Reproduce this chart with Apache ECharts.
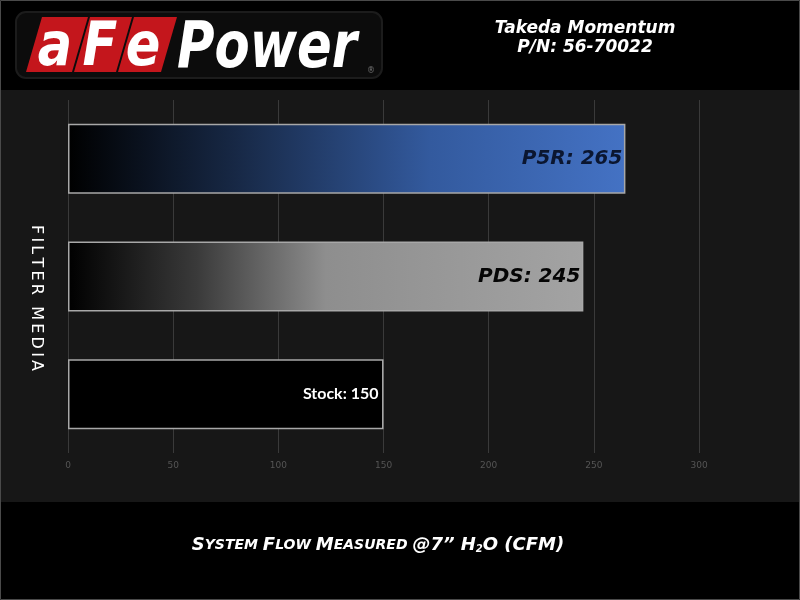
<!DOCTYPE html>
<html>
<head>
<meta charset="utf-8">
<script src="https://cdn.jsdelivr.net/npm/echarts@6/dist/echarts.min.js"></script>
<style>
html,body{margin:0;padding:0;background:#000;}
#chart{width:800px;height:600px;}
</style>
</head>
<body>
<div id="chart"></div>
<script>
// ---- data ----
const categories = ['Stock', 'PDS', 'P5R'];
const flowValues = [150, 245, 265];
const xTicks = [0, 50, 100, 150, 200, 250, 300];
const xAxisMax = 348;
const titleLines = ['Takeda Momentum', 'P/N: 56-70022'];
const yAxisTitle = 'FILTER MEDIA';
const xAxisTitleParts = [['S','big'],['YSTEM ','small'],['F','big'],['LOW ','small'],['M','big'],['EASURED ','small'],['@7” H','big'],['2','sub'],['O (CFM)','big']];
const logoLetters = ['a', 'F', 'e'];
const logoWord = 'Power';

// ---- styles ----
const barFills = [
  '#000000',
  new echarts.graphic.LinearGradient(0, 0, 1, 0, [
    {offset: 0, color: '#000000'}, {offset: 0.25, color: '#3a3a3a'},
    {offset: 0.5, color: '#8e8e8e'}, {offset: 1, color: '#a3a3a3'}]),
  new echarts.graphic.LinearGradient(0, 0, 1, 0, [
    {offset: 0, color: '#000000'}, {offset: 0.3, color: '#172845'},
    {offset: 0.65, color: '#335a9e'}, {offset: 1, color: '#4472c4'}])
];
const labelStyles = [
  {color: '#ffffff', fontFamily: 'Lato', fontWeight: 'bold', fontSize: 16, fontStyle: 'normal', distance: 5},
  {color: '#050505', fontFamily: 'DejaVu Sans', fontWeight: 'bold', fontSize: 20, fontStyle: 'italic', distance: 3},
  {color: '#0b1630', fontFamily: 'DejaVu Sans', fontWeight: 'bold', fontSize: 20, fontStyle: 'italic', distance: 3}
];

const seriesData = flowValues.map((v, i) => ({
  value: v,
  itemStyle: {color: barFills[i]},
  label: labelStyles[i]
}));

const rich = {
  big: {fontSize: 18, fontFamily: 'DejaVu Sans', fontWeight: 'bold', fontStyle: 'italic', fill: '#fff'},
  small: {fontSize: 14, fontFamily: 'DejaVu Sans', fontWeight: 'bold', fontStyle: 'italic', fill: '#fff'},
  sub: {fontSize: 10, fontFamily: 'DejaVu Sans', fontWeight: 'bold', fontStyle: 'italic', fill: '#fff', verticalAlign: 'bottom', padding: [7,0,0,0]}
};
const xName = xAxisTitleParts.map(p => '{' + p[1] + '|' + p[0] + '}').join('');

const logoBoxes = [
  [[42,17],[88,17],[72,72],[26,72]],
  [[90,17],[132,17],[116,72],[74,72]],
  [[134,17],[177,17],[161,72],[118,72]]
];
const logoCenters = [[55,45],[100,45],[143,45]];

const graphics = [
  {type: 'rect', shape: {x: 0, y: 90, width: 800, height: 412}, style: {fill: '#171717'}, z: -100, silent: true},
  {type: 'rect', shape: {x: 0.5, y: 0.5, width: 799, height: 599}, style: {fill: null, stroke: '#4a4a4a', lineWidth: 1}, z: 100, silent: true},
  {type: 'rect', shape: {x: 16, y: 12, width: 366, height: 66, r: 10}, style: {fill: '#0c0c0c', stroke: '#1c1c1c', lineWidth: 2}, z: 1, silent: true}
];
logoBoxes.forEach(pts => graphics.push({type: 'polygon', shape: {points: pts}, style: {fill: '#c4161c'}, z: 2, silent: true}));
logoLetters.forEach((t, i) => graphics.push({
  type: 'text', x: logoCenters[i][0], y: logoCenters[i][1] + 4, scaleX: 0.85, z: 3, silent: true,
  style: {text: t, fill: '#fff', font: 'italic bold 60px "DejaVu Sans"', textAlign: 'center', textVerticalAlign: 'middle'}
}));
graphics.push({
  type: 'text', x: 177, y: 50, scaleX: 0.8, z: 3, silent: true,
  style: {text: logoWord, fill: '#fff', font: 'italic bold 64px "DejaVu Sans"', textAlign: 'left', textVerticalAlign: 'middle'}
});
graphics.push({
  type: 'text', x: 371, y: 71, z: 3, silent: true,
  style: {text: '®', fill: '#777', font: '8px "DejaVu Sans"', textAlign: 'center', textVerticalAlign: 'middle'}
});
titleLines.forEach((t, i) => graphics.push({
  type: 'text', x: 585, y: 29 + i * 19, z: 3, silent: true,
  style: {text: t, fill: '#fff', font: 'italic bold 17px "DejaVu Sans"', textAlign: 'center', textVerticalAlign: 'middle'}
}));
// y-axis title (rotated, reads top to bottom)
graphics.push({
  type: 'text', x: 36, y: 298, rotation: -Math.PI / 2, z: 3, silent: true,
  style: {text: yAxisTitle.split(' ').map(w => w.split('').join('\u2009')).join('\u2009 \u2009'),
          fill: '#fff', font: '16px "DejaVu Sans"', textAlign: 'center', textVerticalAlign: 'middle'}
});
// x-axis title
graphics.push({
  type: 'text', x: 378, y: 545, z: 3, silent: true,
  style: {text: xName, rich: rich, fill: '#fff', textAlign: 'center', textVerticalAlign: 'middle'}
});

const chart = echarts.init(document.getElementById('chart'), null, {renderer: 'canvas'});
chart.setOption({
  backgroundColor: '#000000',
  animation: false,
  graphic: {elements: graphics},
  grid: {left: 68, top: 100, right: 0, height: 353, containLabel: false},
  xAxis: {
    type: 'value', min: xTicks[0], max: xAxisMax, interval: xTicks[1] - xTicks[0],
    axisLine: {show: false}, axisTick: {show: false},
    axisLabel: {color: '#555555', fontSize: 9, fontFamily: 'DejaVu Sans', margin: 8, showMaxLabel: false},
    splitLine: {show: true, lineStyle: {color: '#3a3a3a', width: 1}}
  },
  yAxis: {
    type: 'category', data: categories,
    axisLine: {show: false}, axisTick: {show: false}, axisLabel: {show: false}
  },
  series: [{
    type: 'bar', data: seriesData, barWidth: 70,
    itemStyle: {borderColor: '#a8a8a8', borderWidth: 1.5},
    label: {show: true, position: 'insideRight', formatter: p => categories[p.dataIndex] + ': ' + p.value}
  }]
});
</script>
</body>
</html>
